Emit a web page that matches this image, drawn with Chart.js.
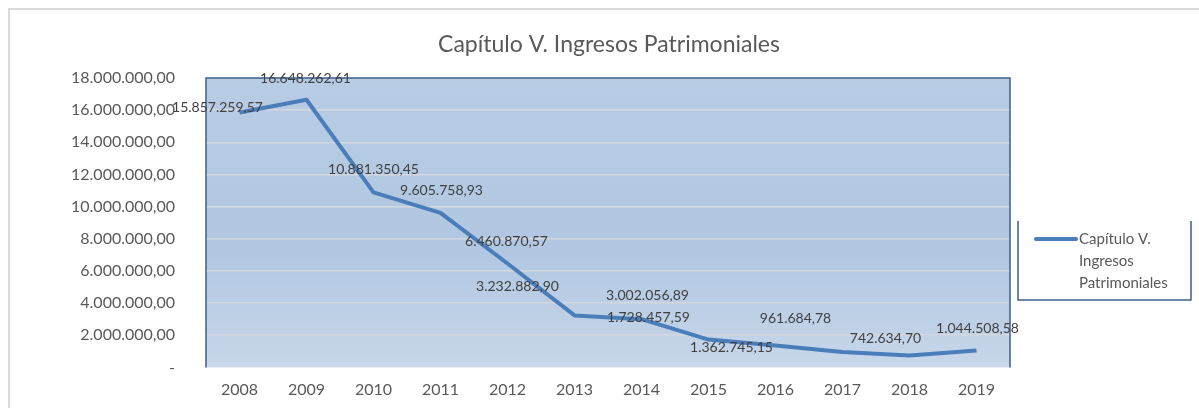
<!DOCTYPE html>
<html>
<head>
<meta charset="utf-8">
<script src="https://cdn.jsdelivr.net/npm/chart.js@4.4.0/dist/chart.umd.min.js"></script>
<style>
html,body{margin:0;padding:0;background:#fff}
#wrap{width:1199px;height:408px;position:relative}
</style>
</head>
<body>
<div id="wrap"><canvas id="ingresosChart" width="1199" height="408"></canvas></div>
<script>

let chartTitle = "Capítulo V. Ingresos Patrimoniales"
let seriesName = "Capítulo V. Ingresos Patrimoniales"

let years = ["2008","2009","2010","2011","2012","2013","2014","2015","2016","2017","2018","2019"]

let ingresos = [15857259.57,16648262.61,10881350.45,9605758.93,6460870.57,3232882.90,3002056.89,1728457.59,1362745.15,961684.78,742634.70,1044508.58]

let yTicks = [0,2000000,4000000,6000000,8000000,10000000,12000000,14000000,16000000,18000000]

// where Excel put each value label, relative to its point
let labelDx = [-22,-1,0,1,-1,-57,6,-60,-44,-47,-24,1]
let labelDy = [-5,-21,-23,-22,-22,-29,-24,-22,2,-33,-17,-22]

function formatEs(v){
let parts = v.toFixed(2).split(".")
let intPart = parts[0].replace(/\B(?=(\d{3})+(?!\d))/g,".")
return intPart+","+parts[1]
}

const FONT = "Lato, 'Open Sans', sans-serif"

const decorPlugin = {
id:"decor",
beforeDraw(chart){
const ctx = chart.ctx
const a = chart.chartArea
ctx.save()
// outer frame
ctx.fillStyle="#dadada"
ctx.fillRect(8,8,1191,2)
ctx.fillRect(8,8,2,400)
// plot area fill
let g = ctx.createLinearGradient(0,a.top,0,a.bottom)
g.addColorStop(0,"#b8cce4")
g.addColorStop(0.6,"#b1c7e1")
g.addColorStop(1,"#c8d7ea")
ctx.fillStyle=g
ctx.fillRect(a.left,a.top,a.right-a.left,a.bottom-a.top)
ctx.restore()
},
beforeDatasetsDraw(chart){
const ctx = chart.ctx
const a = chart.chartArea
ctx.save()
ctx.strokeStyle="#3b5f8f"
ctx.lineWidth=1.5
ctx.beginPath()
ctx.moveTo(a.left,a.bottom)
ctx.lineTo(a.left,a.top)
ctx.lineTo(a.right,a.top)
ctx.lineTo(a.right,a.bottom)
ctx.stroke()
ctx.restore()
},
afterDatasetsDraw(chart){
const ctx = chart.ctx
const meta = chart.getDatasetMeta(0)
ctx.save()
ctx.font = "14px "+FONT
ctx.fillStyle="#404040"
ctx.textAlign="center"
ctx.textBaseline="middle"
meta.data.forEach((pt,i)=>{
ctx.fillText(formatEs(ingresos[i]),pt.x+labelDx[i],pt.y+labelDy[i])
})
ctx.restore()
},
afterDraw(chart){
const ctx = chart.ctx
const ds = chart.data.datasets[0]
ctx.save()
// title
ctx.font = "23px "+FONT
ctx.fillStyle="#595959"
ctx.textAlign="center"
ctx.textBaseline="middle"
ctx.fillText(chartTitle,609,45)
// legend box
ctx.strokeStyle="#3b5f8f"
ctx.lineWidth=1.5
ctx.beginPath()
ctx.moveTo(1018,221)
ctx.lineTo(1018,300)
ctx.lineTo(1191,300)
ctx.lineTo(1191,221)
ctx.stroke()
ctx.strokeStyle=ds.borderColor
ctx.lineWidth=4
ctx.lineCap="round"
ctx.beginPath()
ctx.moveTo(1036,239)
ctx.lineTo(1076,239)
ctx.stroke()
ctx.font = "15px "+FONT
ctx.textAlign="left"
let words = ds.label.split(" ")
let lines = []
let cur = ""
words.forEach(w=>{
let test = cur ? cur+" "+w : w
if(ctx.measureText(test).width > 105 && cur){
lines.push(cur)
cur = w
}else{
cur = test
}
})
lines.push(cur)
lines.forEach((l,i)=>{
ctx.fillText(l,1079,239+i*22)
})
ctx.restore()
}
}

const ctx = document.getElementById("ingresosChart")

let chart = new Chart(ctx,{
type:"line",
data:{
labels:years,
datasets:[
{
label:seriesName,
data:ingresos,
borderColor:"#4a7ebb",
borderWidth:4,
borderJoinStyle:"round",
pointRadius:0,
tension:0,
fill:false
}
]
},
options:{
responsive:false,
animation:false,
layout:{
padding:{left:10,top:78,right:189,bottom:-4.6}
},
plugins:{
legend:{display:false},
title:{display:false},
tooltip:{enabled:false}
},
scales:{
x:{
offset:true,
grid:{display:false,drawTicks:false},
border:{display:false},
afterFit(scale){scale.height=36},
ticks:{
padding:13,
color:"#595959",
font:{family:FONT,size:16}
}
},
y:{
min:0,
max:18000000,
afterFit(scale){scale.width=196},
afterBuildTicks(scale){scale.ticks = yTicks.map(v=>({value:v}))},
border:{display:false},
grid:{
drawTicks:false,
lineWidth:1.5,
color:(c)=>(c.tick && c.tick.value>0 && c.tick.value<18000000) ? "#d3d8de" : "rgba(0,0,0,0)"
},
ticks:{
padding:31,
color:"#595959",
font:{family:FONT,size:16},
callback:(v)=> v===0 ? "-" : formatEs(v)
}
}
}
},
plugins:[decorPlugin]
})

</script>
</body>
</html>
